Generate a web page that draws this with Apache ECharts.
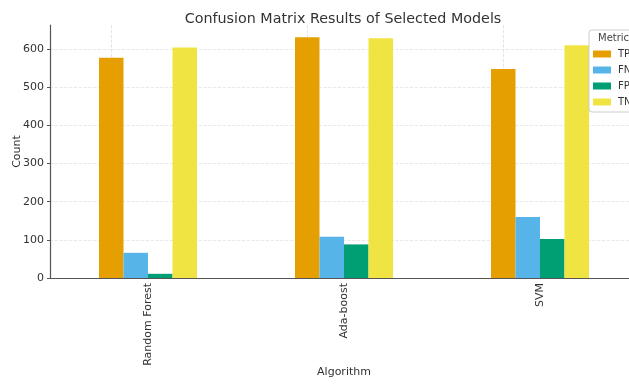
<!DOCTYPE html>
<html>
<head>
<meta charset="utf-8">
<script src="https://cdn.jsdelivr.net/npm/echarts@6/dist/echarts.min.js"></script>
<style>html,body{margin:0;padding:0;background:#fff}#c{width:629px;height:388px}</style>
</head>
<body>
<div id="c"></div>
<script>
const categories = ["Random Forest", "Ada-boost", "SVM"];
const metrics = ["TP", "FN", "FP", "TN"];
const tpValues = [577, 631, 548];
const fnValues = [66, 108, 160];
const fpValues = [11, 88, 102];
const tnValues = [604, 628, 610];
const yTicks = [0, 100, 200, 300, 400, 500, 600];

const colors = ["#E69F00", "#56B4E9", "#009E73", "#F0E442"];
const seriesData = [tpValues, fnValues, fpValues, tnValues];
const font = "DejaVu Sans";

const chart = echarts.init(document.getElementById('c'), null, {renderer: 'canvas'});
chart.setOption({
  animation: false,
  textStyle: {fontFamily: font},
  title: {
    text: "Confusion Matrix Results of Selected Models",
    left: 338, top: 7, textAlign: 'center',
    textStyle: {fontFamily: font, fontSize: 14.3, fontWeight: 'normal', color: '#333'}
  },
  grid: {left: 50, top: 25, width: 588, height: 253, containLabel: false, outerBoundsMode: 'none'},
  legend: {
    orient: 'vertical', left: 589, top: 30,
    padding: [19, 20, 5, 4],
    itemWidth: 18, itemHeight: 7, itemGap: 6,
    backgroundColor: 'rgba(255,255,255,0.85)',
    borderColor: '#ccc', borderWidth: 1, borderRadius: 3,
    icon: 'rect',
    textStyle: {fontFamily: font, fontSize: 10, color: '#333', padding: [0,0,0,2]},
    data: metrics
  },
  graphic: [{
    type: 'text', left: 598, top: 33, z: 100,
    style: {text: 'Metric', fontFamily: font, fontSize: 10, fill: '#444'}
  }],
  xAxis: {
    type: 'category', data: categories,
    name: 'Algorithm', nameLocation: 'middle', nameGap: 89, nameMoveOverlap: false,
    nameTextStyle: {fontFamily: font, fontSize: 11, color: '#333'},
    axisLine: {lineStyle: {color: '#555', width: 1.2}},
    axisTick: {alignWithLabel: true, length: 3, lineStyle: {color: '#555'}},
    axisLabel: {rotate: 90, fontFamily: font, fontSize: 11, color: '#333', margin: 5},
    splitLine: {show: false}
  },
  yAxis: {
    type: 'value', min: 0, max: 663, interval: 100,
    name: 'Count', nameLocation: 'middle', nameGap: 27, nameMoveOverlap: false,
    nameTextStyle: {fontFamily: font, fontSize: 11, color: '#333'},
    axisLine: {show: true, lineStyle: {color: '#555', width: 1.2}},
    axisTick: {show: true, length: 3, lineStyle: {color: '#555'}},
    axisLabel: {fontFamily: font, fontSize: 11, color: '#333', margin: 6, showMaxLabel: false,
      formatter: v => yTicks.includes(v) ? String(v) : ''},
    splitLine: {show: true, showMaxLine: false, lineStyle: {color: '#e3e3e3', type: 'dashed', width: 0.8}}
  },
  series: metrics.map((m, i) => ({
    name: m, type: 'bar', data: seriesData[i],
    barGap: '0%', barCategoryGap: '50%',
    itemStyle: {color: colors[i]},
    z: 3,
    markLine: i === 0 ? {
      silent: true, symbol: 'none', z: 1,
      label: {show: false},
      lineStyle: {color: '#ddd', type: 'dashed', width: 0.8},
      data: categories.map(c => ({xAxis: c}))
    } : undefined
  }))
});
</script>
</body>
</html>
